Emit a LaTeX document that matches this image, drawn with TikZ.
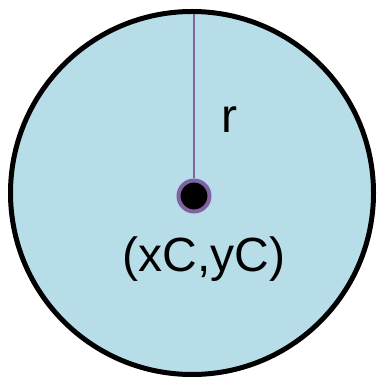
\documentclass[tikz,border=0pt]{standalone}
\usepackage{fontspec}
\setmainfont{Liberation Sans}
\usepackage{tikz}
\definecolor{discfill}{HTML}{B7DEE8}
\definecolor{radpurple}{HTML}{8064A2}
\tikzset{
  disc/.style     = {draw=black, line width=5pt, fill=discfill},
  centerdot/.style= {circle, draw=radpurple, line width=4pt, fill=black,
                     minimum size=31pt, inner sep=0pt},
  radline/.style  = {radpurple, line width=2pt},
  lbl/.style      = {inner sep=0pt, anchor=base}
}
\begin{document}
\begin{tikzpicture}[x=1pt,y=1pt]
  \useasboundingbox (0,0) rectangle (377,379);
  \draw[disc] (192,186) circle (181.5);
  \coordinate (top) at (194,365);
  \node[centerdot] (ctr) at (194,183) {};
  \draw[radline] (top) -- (ctr);
  \node[lbl] (rad) at (229.5,246.3) {\fontsize{48}{52}\selectfont r};
  \node[lbl] (xy) at (204,107) {\fontsize{48}{52}\selectfont (xC,yC)};
\end{tikzpicture}
\end{document}
